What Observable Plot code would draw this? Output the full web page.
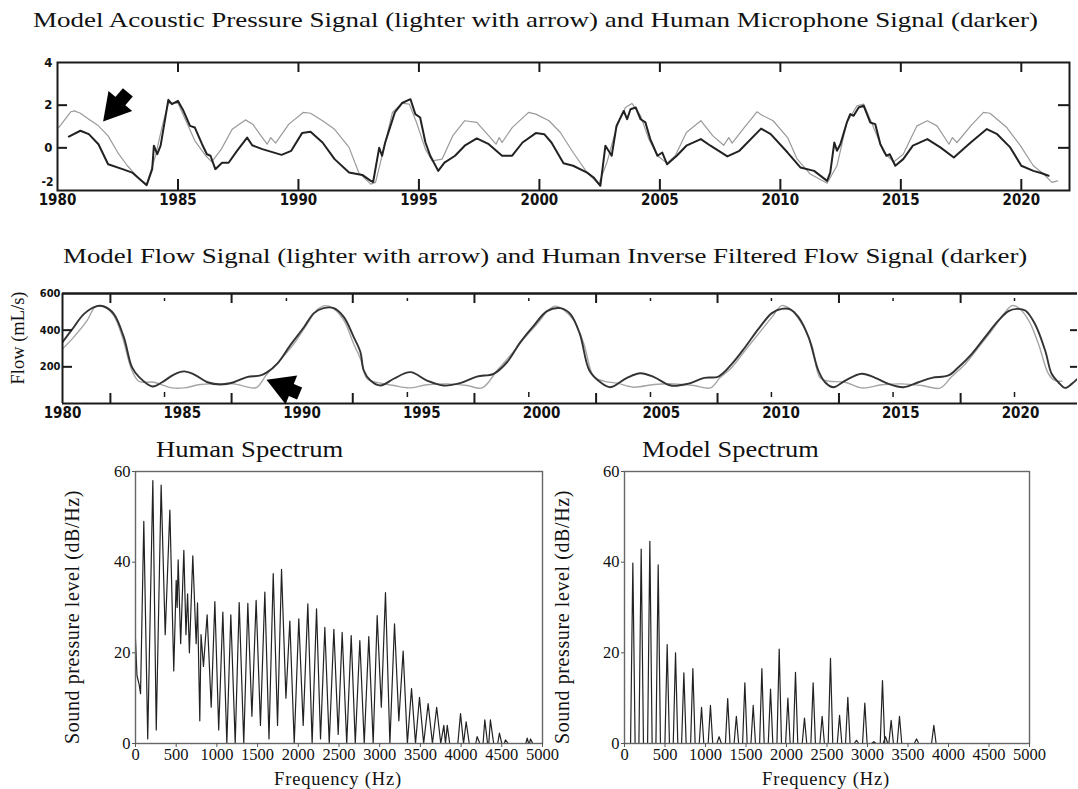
<!DOCTYPE html>
<html><head><meta charset="utf-8">
<script src="https://cdn.jsdelivr.net/npm/d3@7"></script>
<script src="https://cdn.jsdelivr.net/npm/@observablehq/plot@0.6"></script>
<style>
html,body{margin:0;padding:0;background:#fff;overflow:hidden}
#fig{position:relative;width:1078px;height:789px;background:#fff;overflow:hidden}
.abs{position:absolute;white-space:nowrap;line-height:1;font-family:'Liberation Serif','Times New Roman',serif;color:#111}
</style></head><body><div id="fig"></div>
<script>
// ---------- data ----------
const topYears = [1980,1985,1990,1995,2000,2005,2010,2015,2020];
const topYTicks = [0,2,4];
const topYBottomTick = [-2];
const topSideTicks = [0,2];
// human microphone signal (darker) [year, value]
const topHuman = [[1980.47,0.53],[1980.95,0.8],[1981.3,0.64],[1981.7,0.17],[1982.1,-0.77],[1982.7,-1.0],[1983.1,-1.16],[1983.7,-1.75],[1983.93,-1.0],[1984.0,0.1],[1984.14,-0.3],[1984.28,0.1],[1984.6,2.25],[1984.75,2.05],[1985.0,2.2],[1985.2,1.8],[1985.5,1.03],[1985.7,0.95],[1986.0,0.17],[1986.2,-0.3],[1986.35,-0.37],[1986.55,-1.0],[1986.83,-0.7],[1987.1,-0.7],[1987.45,-0.14],[1987.87,0.48],[1988.08,0.12],[1988.5,-0.06],[1989.3,-0.33],[1989.7,-0.14],[1990.15,0.69],[1990.5,0.75],[1991.0,0.25],[1991.5,-0.53],[1992.1,-1.16],[1992.65,-1.27],[1993.0,-1.55],[1993.1,-1.6],[1993.35,0],[1993.47,-0.37],[1993.6,0.25],[1994.0,1.66],[1994.3,2.1],[1994.65,2.28],[1994.85,1.58],[1995.05,1.42],[1995.27,0.25],[1995.47,-0.37],[1995.8,-1.08],[1996.06,-0.69],[1996.5,-0.37],[1996.9,0.1],[1997.4,0.44],[1997.9,0.17],[1998.45,-0.37],[1998.87,-0.37],[1999.3,0.25],[1999.85,0.69],[2000.2,0.64],[2000.5,0.25],[2001.0,-0.72],[2001.4,-0.84],[2001.98,-1.16],[2002.25,-1.39],[2002.53,-1.78],[2002.74,0.1],[2002.87,-0.14],[2003.0,-0.37],[2003.2,1.03],[2003.5,1.73],[2003.64,1.34],[2003.78,1.81],[2004.0,1.89],[2004.2,1.34],[2004.4,1.19],[2004.6,0.41],[2004.9,-0.37],[2005.1,-0.22],[2005.3,-0.77],[2005.7,-0.37],[2006.1,0.1],[2006.7,0.41],[2007.1,0.1],[2007.8,-0.4],[2008.3,-0.14],[2009.2,0.9],[2009.6,0.64],[2010.3,-0.22],[2010.83,-0.92],[2011.4,-1.08],[2011.94,-1.55],[2012.07,-1.16],[2012.24,0.25],[2012.35,-0.14],[2012.49,0.17],[2012.76,1.19],[2012.9,1.58],[2013.04,1.5],[2013.25,1.89],[2013.46,1.97],[2013.73,1.19],[2013.94,1.11],[2014.15,0.17],[2014.4,-0.37],[2014.54,-0.3],[2014.77,-0.84],[2015.1,-0.53],[2015.5,0.1],[2016.1,0.41],[2016.64,0.02],[2017.2,-0.45],[2017.9,0.25],[2018.57,0.88],[2019.0,0.64],[2019.54,0.02],[2020.0,-0.84],[2020.5,-1.08],[2020.85,-1.19],[2021.13,-1.31]];
// model acoustic pressure signal (lighter)
const topModel = [[1980.05,0.95],[1980.55,1.69],[1980.7,1.73],[1980.95,1.62],[1981.3,1.34],[1981.7,1.03],[1982.1,0.56],[1982.5,-0.22],[1982.9,-0.84],[1983.4,-1.47],[1983.7,-1.7],[1984.07,-0.37],[1984.35,1.03],[1984.6,2.1],[1985.0,2.1],[1985.3,1.34],[1985.7,0.33],[1986.15,-0.37],[1986.4,-0.66],[1986.8,-0.06],[1987.25,0.87],[1987.8,1.31],[1988.1,1.11],[1988.5,0.48],[1988.7,0.17],[1988.85,0.48],[1989.05,0.22],[1989.6,1.11],[1990.2,1.66],[1990.5,1.62],[1991.0,1.27],[1991.5,0.87],[1992.1,0.02],[1992.5,-1.16],[1993.0,-1.7],[1993.2,-1.62],[1993.55,0.0],[1993.9,1.66],[1994.3,2.1],[1994.6,2.05],[1994.9,1.19],[1995.27,-0.06],[1995.55,-0.61],[1995.96,-0.53],[1996.4,0.56],[1996.9,1.27],[1997.4,1.19],[1997.9,0.56],[1998.2,0.17],[1998.33,0.48],[1998.45,0.25],[1998.87,0.95],[1999.55,1.66],[1999.85,1.58],[2000.4,1.27],[2000.87,0.72],[2001.4,-0.22],[2001.98,-1.16],[2002.46,-1.7],[2002.8,-0.69],[2003.2,0.95],[2003.57,1.89],[2003.84,2.08],[2004.2,1.5],[2004.54,0.41],[2004.9,-0.37],[2005.3,-0.72],[2005.64,-0.37],[2006.1,0.72],[2006.7,1.27],[2007.2,0.56],[2007.65,0.12],[2007.86,0.48],[2008.0,0.22],[2008.5,0.95],[2009.03,1.69],[2009.24,1.53],[2009.7,1.27],[2010.3,0.48],[2010.7,-0.53],[2011.24,-1.23],[2011.94,-1.66],[2012.35,-0.84],[2012.76,1.19],[2013.18,1.97],[2013.46,2.05],[2013.87,0.95],[2014.3,-0.22],[2014.7,-0.66],[2015.1,-0.3],[2015.67,1.03],[2016.1,1.27],[2016.5,1.03],[2017.0,0.17],[2017.14,0.48],[2017.33,0.25],[2017.9,1.03],[2018.43,1.66],[2018.7,1.62],[2019.4,0.95],[2019.96,0.1],[2020.5,-0.84],[2020.93,-1.23],[2021.27,-1.62],[2021.5,-1.55]];
const topArrow = [{tailX:1982.92, tailY:2.6, headX:1982.37, headY:1.875}];

const flowYears = [1980,1985,1990,1995,2000,2005,2010,2015,2020];
const flowYTicks = [200,400,600];
const flowSideTicks = [200,400];
const flowMajor = [1982.0,1987.06,1992.12,1997.2,2002.28,2007.35,2012.42,2017.5];
const flowMinor = [1984.26,1989.35,1994.4,1999.47,2004.55,2009.6,2014.68,2019.75];
// human inverse filtered flow (darker) [year, mL/s]
const flowHuman = [[1980.0,335],[1980.47,416],[1980.9,489],[1981.45,531],[1981.73,529],[1982.14,489],[1982.56,362],[1982.9,198],[1983.2,144],[1983.75,93],[1984.16,116],[1984.65,158],[1985.07,175],[1985.5,158],[1986.05,116],[1986.6,104],[1987.15,116],[1987.7,144],[1988.27,153],[1988.55,171],[1988.96,216],[1989.5,316],[1990.08,416],[1990.5,493],[1990.9,520],[1991.33,520],[1991.75,471],[1992.16,362],[1992.44,280],[1992.58,180],[1992.86,125],[1993.28,98],[1993.83,135],[1994.53,171],[1995.22,125],[1995.92,98],[1996.6,111],[1997.3,147],[1998.0,162],[1998.56,225],[1999.12,335],[1999.68,425],[2000.23,504],[2000.79,520],[2001.2,489],[2001.6,380],[2002.0,180],[2002.46,116],[2002.88,89],[2003.57,140],[2004.13,165],[2004.7,144],[2005.4,98],[2006.1,107],[2006.8,140],[2007.39,147],[2007.95,216],[2008.5,307],[2009.06,407],[2009.62,493],[2010.03,516],[2010.38,514],[2010.73,471],[2011.15,362],[2011.56,180],[2011.84,116],[2012.19,89],[2012.68,125],[2013.37,162],[2013.93,140],[2014.49,107],[2015.11,89],[2015.74,116],[2016.3,140],[2016.99,153],[2017.41,198],[2017.97,271],[2018.52,362],[2019.08,453],[2019.5,504],[2019.85,516],[2020.2,507],[2020.6,435],[2021.03,289],[2021.3,162],[2021.58,116],[2021.86,85],[2022.14,107],[2022.42,140]];
// model flow (lighter)
const flowModel = [[1980.0,298],[1980.47,362],[1981.03,453],[1981.38,529],[1981.73,529],[1982.14,480],[1982.5,362],[1982.9,180],[1983.2,120],[1983.8,116],[1984.58,85],[1985.07,85],[1985.76,104],[1986.46,107],[1987.15,107],[1987.92,85],[1988.13,89],[1988.55,162],[1989.1,238],[1989.66,325],[1990.2,431],[1990.63,511],[1990.98,534],[1991.33,516],[1991.75,453],[1992.16,325],[1992.44,244],[1992.72,135],[1993.28,111],[1993.83,98],[1994.46,85],[1995.22,102],[1996.06,107],[1996.9,98],[1997.52,85],[1998.15,180],[1998.7,262],[1999.26,353],[1999.82,435],[2000.3,511],[2000.58,531],[2000.93,511],[2001.35,453],[2001.77,325],[2002.18,147],[2002.6,122],[2003.16,111],[2003.85,89],[2004.7,104],[2005.53,107],[2006.36,98],[2007.05,85],[2007.45,140],[2007.95,198],[2008.5,289],[2009.06,380],[2009.62,471],[2010.03,534],[2010.38,516],[2010.87,435],[2011.29,316],[2011.63,140],[2011.98,122],[2012.68,116],[2013.37,85],[2014.21,102],[2015.04,107],[2015.88,98],[2016.64,84],[2017.13,147],[2017.69,216],[2018.25,307],[2018.8,398],[2019.36,498],[2019.64,534],[2019.92,522],[2020.34,453],[2020.75,325],[2021.17,162],[2021.45,125],[2021.73,122]];
const flowArrow = [{tailX:1989.9, tailY:55, headX:1989.21, headY:93}];

const freqTicks = [0,500,1000,1500,2000,2500,3000,3500,4000,4500,5000];
const dbTicks = [0,20,40,60];
// human spectrum [Hz, dB/Hz]
const humanSpec = [[0,23],[18,15],[45,13],[62,11],[102,49],[150,1],[160,10],[213,58],[255,3],[315,57],[365,24],[422,51.5],[470,16],[500,36],[512,30],[524,40.5],[555,22],[594,42.6],[620,24],[640,33],[662,20],[704,41.4],[745,22],[762,31],[790,5],[805,24],[835,17],[880,28.4],[930,8],[975,31.3],[1022,3],[1073,29],[1122,0],[1171,28.4],[1225,0],[1274,31.1],[1330,0],[1380,30.9],[1430,6],[1482,31.6],[1535,4],[1589,33.4],[1640,1],[1692,37.5],[1745,4],[1794,38.4],[1848,10],[1896,27],[1950,0],[2006,27.5],[2060,4],[2117,30.8],[2170,0],[2224,29.7],[2273,1],[2326,25.6],[2380,0],[2437,25.2],[2490,2],[2539,24.5],[2595,0],[2650,23.8],[2700,0],[2756,22.7],[2810,0],[2866,23.6],[2920,0],[2969,28.2],[3020,8],[3071,33.3],[3125,0],[3182,26.4],[3235,5],[3288,20.4],[3340,0],[3391,12.1],[3440,0],[3489,10.2],[3540,0],[3595,8.8],[3648,0],[3700,8],[3750,0],[3788,4],[3808,0],[3830,4],[3860,0],[3960,0],[3993,6.6],[4030,0],[4062,4.8],[4100,0],[4180,0],[4197,1.5],[4230,0],[4270,0],[4291,5.2],[4325,0],[4340,0],[4360,5.2],[4400,0],[4450,0],[4471,2.3],[4500,0],[4530,0],[4545,0.8],[4580,0],[4795,0],[4812,1.2],[4830,0],[4840,0],[4853,1],[4880,0],[4950,0]];
// model spectrum harmonic peaks [Hz, dB/Hz]
const modelPeaks = [[103,39.8],[206,42.9],[313,44.6],[416,39.4],[527,21.8],[630,20],[733,15.6],[844,16.5],[951,8],[1061,8.4],[1168,1.5],[1274,9.9],[1381,6],[1486,13.4],[1589,8.4],[1696,16.5],[1803,12],[1910,20.8],[2017,10],[2111,15.7],[2222,5.6],[2329,13.4],[2440,6],[2543,18.8],[2655,6.2],[2757,10.2],[2864,0.7],[2967,8.9],[3078,0.4],[3185,13.9],[3222,1.5],[3292,5.1],[3395,6],[3605,1],[3819,4]];
const peakHalfWidth = 28;

// ---------- helpers ----------
const fig = document.getElementById("fig");
const serif = "'Liberation Serif','Times New Roman',serif";
const narrow = "'Liberation Sans Narrow','DejaVu Sans Condensed','Liberation Sans',Arial,sans-serif";
function place(node, left, top, width) {
  const w = document.createElement("div");
  w.style.cssText = `position:absolute;left:${left}px;top:${top}px;width:${width}px`;
  w.appendChild(node); fig.appendChild(w);
}
function label(text, x, y, size, extra) {
  const d = document.createElement("div");
  d.className = "abs"; d.textContent = text;
  d.style.left = x + "px"; d.style.top = y + "px"; d.style.fontSize = size + "px";
  if (extra) d.style.cssText += extra;
  fig.appendChild(d);
}
const pts = (arr) => arr.map(([x, y]) => ({x, y}));
const ink = "#1a1a1a";

// ---------- panel 1: acoustic pressure ----------
const p1 = Plot.plot({
  width: 1078, height: 160, marginLeft: 57, marginRight: 9, marginTop: 7, marginBottom: 25,
  x: {domain: [1980, 2022]}, y: {domain: [-2, 4]},
  style: {background: "transparent", color: "#111", fontFamily: narrow},
  marks: [
    Plot.line(pts(topModel), {x: "x", y: "y", stroke: "#9a9a9a", strokeWidth: 1.2}),
    Plot.line(pts(topHuman), {x: "x", y: "y", stroke: "#222", strokeWidth: 2}),
    Plot.frame({stroke: ink, strokeWidth: 2}),
    Plot.tickX(topYears.slice(1), {x: d => d, insetTop: 117, stroke: ink, strokeWidth: 2}),
    Plot.tickX(topYears.slice(1), {x: d => d, insetBottom: 118, stroke: ink, strokeWidth: 2}),
    Plot.tickY(topSideTicks, {y: d => d, insetRight: 1002, stroke: ink, strokeWidth: 2}),
    Plot.tickY(topSideTicks, {y: d => d, insetLeft: 1001, stroke: ink, strokeWidth: 2}),
    Plot.axisX(topYears, {tickSize: 0, tickPadding: 4, tickFormat: "d", fontSize: 15, fontWeight: "bold", label: null}),
    Plot.axisY(topYTicks, {tickSize: 0, tickPadding: 5, tickFormat: d => String(d), fontSize: 13, fontWeight: "bold", label: null}),
    Plot.axisY(topYBottomTick, {tickSize: 0, tickPadding: 4, dy: -8, tickFormat: d => String(d), fontSize: 12, fontWeight: "bold", label: null}),
    Plot.link(topArrow, {x1: "tailX", y1: "tailY", x2: "headX", y2: "headY", stroke: "#000", strokeWidth: 13}),
    Plot.dot(topArrow, {x: "headX", y: "headY", symbol: "triangle", r: 11.5, fill: "#000", stroke: "none", rotate: 220})
  ]
});
place(p1, 0, 55, 1078);

// ---------- panel 2: flow ----------
const p2 = Plot.plot({
  width: 1078, height: 145, marginLeft: 62, marginRight: 1, marginTop: 13, marginBottom: 22,
  x: {domain: [1980, 2022.38]}, y: {domain: [0, 600]},
  style: {background: "transparent", color: "#111", fontFamily: narrow},
  marks: [
    Plot.line(pts(flowModel), {x: "x", y: "y", stroke: "#a5a5a5", strokeWidth: 1.4, curve: "catmull-rom", clip: true}),
    Plot.line(pts(flowHuman), {x: "x", y: "y", stroke: "#333", strokeWidth: 1.9, curve: "catmull-rom", clip: true}),
    Plot.ruleY([600], {stroke: ink, strokeWidth: 2.4}),
    Plot.ruleY([0], {stroke: ink, strokeWidth: 2}),
    Plot.ruleX([1980], {stroke: ink, strokeWidth: 2}),
    Plot.tickX(flowMajor, {x: d => d, insetBottom: 100, stroke: ink, strokeWidth: 2}),
    Plot.tickX(flowMajor, {x: d => d, insetTop: 100, stroke: ink, strokeWidth: 2}),
    Plot.tickX(flowMinor, {x: d => d, insetTop: 5, insetBottom: 102, stroke: ink, strokeWidth: 1.5}),
    Plot.tickX(flowMinor, {x: d => d, insetTop: 99, insetBottom: 6, stroke: ink, strokeWidth: 1.5}),
    Plot.tickY(flowSideTicks, {y: d => d, insetRight: 1005, stroke: ink, strokeWidth: 2}),
    Plot.tickY(flowSideTicks, {y: d => d, insetLeft: 1008, stroke: ink, strokeWidth: 2}),
    Plot.axisX(flowYears, {tickSize: 0, tickPadding: 4, tickFormat: "d", fontSize: 15, fontWeight: "bold", label: null}),
    Plot.axisY(flowYTicks, {tickSize: 0, tickPadding: 2, tickFormat: "d", fontSize: 11, fontWeight: "bold", label: null}),
    Plot.link(flowArrow, {x1: "tailX", y1: "tailY", x2: "headX", y2: "headY", stroke: "#000", strokeWidth: 13}),
    Plot.dot(flowArrow, {x: "headX", y: "headY", symbol: "triangle", r: 11.5, fill: "#000", stroke: "none", rotate: 292})
  ]
});
place(p2, 0, 280, 1078);

// ---------- spectra ----------
function spectrum(marks, width, ml, mr) {
  return Plot.plot({
    width, height: 359, marginLeft: ml, marginRight: mr, marginTop: 41, marginBottom: 46,
    x: {domain: [0, 5000]}, y: {domain: [0, 60]},
    style: {background: "transparent", color: "#111", fontFamily: serif},
    marks: [
      ...marks,
      Plot.frame({stroke: "#666", strokeWidth: 1.4}),
      Plot.axisX(freqTicks, {tickSize: 4, tickPadding: 1, tickFormat: "d", fontSize: 16.5, label: null, stroke: "#555"}),
      Plot.axisY(dbTicks, {tickSize: 3, tickPadding: 2, tickFormat: "d", fontSize: 16.5, label: null, stroke: "#555"})
    ]
  });
}
const p3 = spectrum([
  Plot.line(pts(humanSpec), {x: "x", y: "y", stroke: "#222", strokeWidth: 1.2})
], 560, 135, 18);
place(p3, 0, 430, 560);

const modelLine = modelPeaks.flatMap(([f, v]) => [[f - peakHalfWidth, 0], [f, v], [f + peakHalfWidth, 0]]);
const p4 = spectrum([
  Plot.line(pts([[0, 0], ...modelLine, [5000, 0]]), {x: "x", y: "y", stroke: "#222", strokeWidth: 1.2})
], 538, 84, 49);
place(p4, 540, 430, 538);

// ---------- text ----------
const stretch = (s) => `transform:scaleX(${s});transform-origin:0 0;`;
label("Model Acoustic Pressure Signal (lighter with arrow) and Human Microphone Signal (darker)", 33, 10, 21.5, stretch(1.255));
label("Model Flow Signal (lighter with arrow) and Human Inverse Filtered Flow Signal (darker)", 63, 246, 21.5, stretch(1.25));
label("Flow (mL/s)", 18, 338, 18.5, "transform:translate(-50%,-50%) rotate(-90deg);");
label("Human Spectrum", 156, 437, 24, stretch(1.11));
label("Model Spectrum", 642, 437, 24, stretch(1.1));
label("Sound pressure level (dB/Hz)", 72, 617, 20, "letter-spacing:0.6px;transform:translate(-50%,-50%) rotate(-90deg);");
label("Sound pressure level (dB/Hz)", 562, 617, 20, "letter-spacing:0.6px;transform:translate(-50%,-50%) rotate(-90deg);");
label("Frequency (Hz)", 338, 779, 18.5, "letter-spacing:0.8px;transform:translate(-50%,-50%);");
label("Frequency (Hz)", 826, 779, 18.5, "letter-spacing:0.8px;transform:translate(-50%,-50%);");
</script></body></html>
